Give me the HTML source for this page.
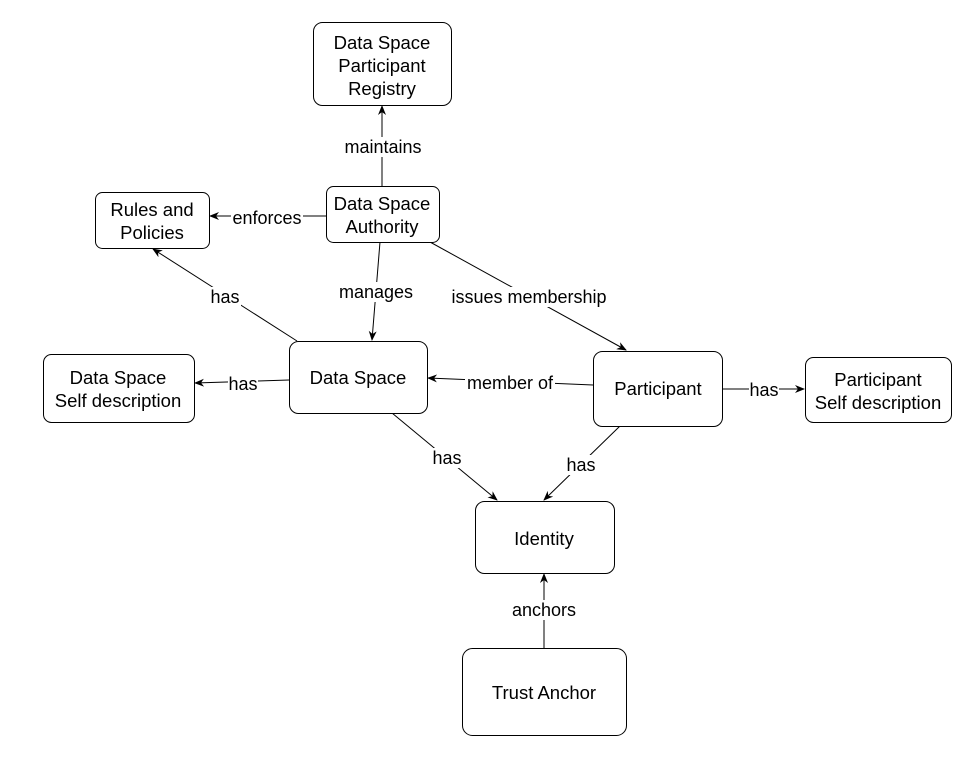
<!DOCTYPE html>
<html><head><meta charset="utf-8"><style>
body{margin:0;background:#fff;}
text{font-family:"Liberation Sans",sans-serif;font-size:18.5px;fill:#000;}
.l{font-size:18px;}
</style></head><body>
<svg width="980" height="757" viewBox="0 0 980 757" xmlns="http://www.w3.org/2000/svg">
<defs><marker id="a" markerWidth="10" markerHeight="8" refX="9" refY="4" orient="auto" markerUnits="userSpaceOnUse"><path d="M0,0 L10,4 L0,8 L3,4 z" fill="#000"/></marker></defs>
<g stroke="#000" stroke-width="1" fill="none" marker-end="url(#a)">
<line x1="382" y1="186" x2="382" y2="106"/>
<line x1="326" y1="216" x2="210" y2="216"/>
<line x1="380" y1="242" x2="372" y2="340"/>
<line x1="430" y1="242" x2="626" y2="350"/>
<line x1="297" y1="341" x2="153" y2="249"/>
<line x1="289" y1="380" x2="195" y2="383"/>
<line x1="593" y1="385" x2="428" y2="378"/>
<line x1="722" y1="389" x2="804" y2="389"/>
<line x1="392" y1="413" x2="497" y2="500"/>
<line x1="620" y1="426" x2="544" y2="500"/>
<line x1="544" y1="648" x2="544" y2="574"/>
</g>
<g fill="#fff" stroke="#000" stroke-width="1">
<rect x="313.5" y="22.5" width="138" height="83" rx="9"/>
<rect x="326.5" y="186.5" width="113" height="56" rx="7"/>
<rect x="95.5" y="192.5" width="114" height="56" rx="7"/>
<rect x="289.5" y="341.5" width="138" height="72" rx="9"/>
<rect x="43.5" y="354.5" width="151" height="68" rx="8"/>
<rect x="593.5" y="351.5" width="129" height="75" rx="9"/>
<rect x="805.5" y="357.5" width="146" height="65" rx="8"/>
<rect x="475.5" y="501.5" width="139" height="72" rx="9"/>
<rect x="462.5" y="648.5" width="164" height="87" rx="10"/>
</g>
<g fill="#fff">
<rect x="342" y="137" width="82" height="20"/>
<rect x="231" y="208" width="72" height="20"/>
<rect x="337" y="282" width="78" height="20"/>
<rect x="451" y="287" width="156" height="20"/>
<rect x="209" y="287" width="32" height="20"/>
<rect x="228" y="374" width="30" height="20"/>
<rect x="465" y="373" width="90" height="20"/>
<rect x="749" y="380" width="30" height="20"/>
<rect x="431" y="448" width="32" height="20"/>
<rect x="565" y="455" width="32" height="20"/>
<rect x="510" y="600" width="68" height="20"/>
</g>
<g text-anchor="middle">
<text x="382" y="49">Data Space</text><text x="382" y="72">Participant</text><text x="382" y="95">Registry</text>
<text x="382" y="210">Data Space</text><text x="382" y="233">Authority</text>
<text x="152" y="216">Rules and</text><text x="152" y="239">Policies</text>
<text x="358" y="384">Data Space</text>
<text x="118" y="384">Data Space</text><text x="118" y="407">Self description</text>
<text x="658" y="395">Participant</text>
<text x="878" y="386">Participant</text><text x="878" y="409">Self description</text>
<text x="544" y="545">Identity</text>
<text x="544" y="699">Trust Anchor</text>
<text class="l" x="383" y="153">maintains</text>
<text class="l" x="267" y="224">enforces</text>
<text class="l" x="376" y="298">manages</text>
<text class="l" x="529" y="303">issues membership</text>
<text class="l" x="225" y="303">has</text>
<text class="l" x="243" y="390">has</text>
<text class="l" x="510" y="389">member of</text>
<text class="l" x="764" y="396">has</text>
<text class="l" x="447" y="464">has</text>
<text class="l" x="581" y="471">has</text>
<text class="l" x="544" y="616">anchors</text>
</g>
</svg>
</body></html>
